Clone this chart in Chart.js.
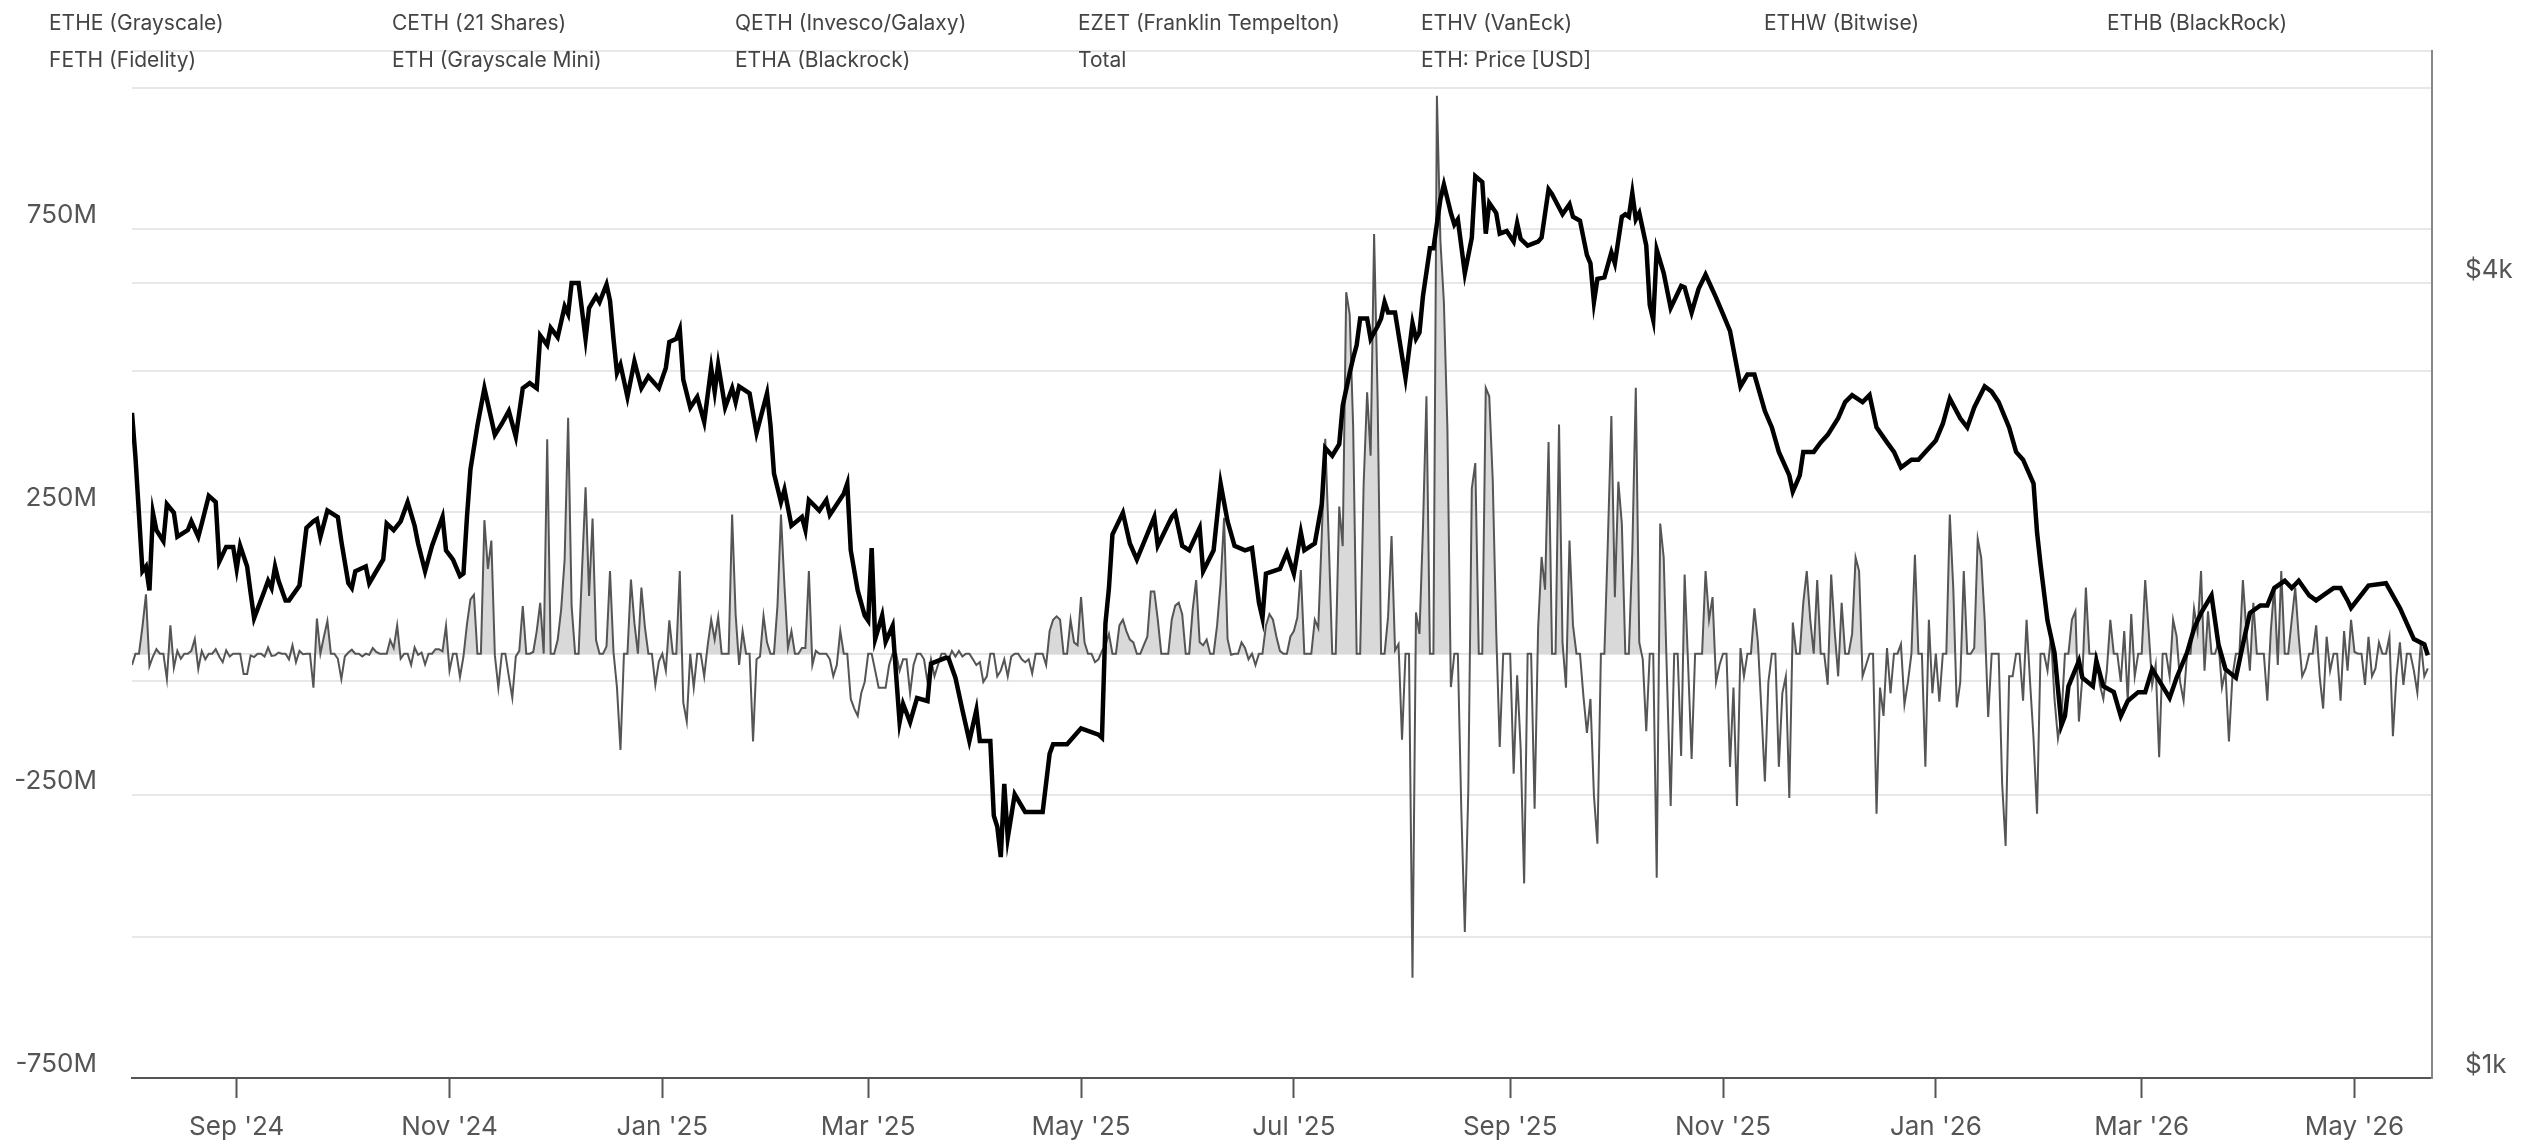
<!DOCTYPE html>
<html>
<head>
<meta charset="utf-8">
<title>ETH ETF flows vs ETH price</title>
<script src="https://cdn.jsdelivr.net/npm/chart.js@4.4.1/dist/chart.umd.min.js"></script>
<style>
  html, body { margin: 0; padding: 0; background: #fff; }
  #wrap { position: relative; width: 2548px; height: 1146px; }
  #legend {
    position: absolute; left: 49px; top: 4px; z-index: 2; pointer-events: none;
    display: grid; grid-template-columns: repeat(7, 343px); grid-auto-rows: 37px;
    font: 21px Inter, sans-serif; color: #444;
  }
  #legend div { line-height: 37px; white-space: nowrap; }
</style>
</head>
<body>
<div id="wrap">
  <div id="legend"></div>
  <canvas id="chart" width="2548" height="1146"></canvas>
</div>
<script>
// Legend order as in the source chart
const seriesNames = [
  'ETHE (Grayscale)', 'CETH (21 Shares)', 'QETH (Invesco/Galaxy)', 'EZET (Franklin Tempelton)',
  'ETHV (VanEck)', 'ETHW (Bitwise)', 'ETHB (BlackRock)',
  'FETH (Fidelity)', 'ETH (Grayscale Mini)', 'ETHA (Blackrock)', 'Total', 'ETH: Price [USD]'
];

// x axis month ticks
const monthTicks = ['2024-09-01', '2024-11-01', '2025-01-01', '2025-03-01', '2025-05-01', '2025-07-01',
  '2025-09-01', '2025-11-01', '2026-01-01', '2026-03-01', '2026-05-01'];
const flowTickLabels = { '750': '750M', '250': '250M', '-250': '-250M', '-750': '-750M' };
const priceTickLabels = { '1000': '$1k', '4000': '$4k' };

// ETH price, USD
const priceDates = [
  '2024-08-02','2024-08-03','2024-08-05','2024-08-06','2024-08-07','2024-08-08','2024-08-09','2024-08-11','2024-08-12','2024-08-14',
  '2024-08-15','2024-08-18','2024-08-19','2024-08-21','2024-08-22','2024-08-24','2024-08-26','2024-08-27','2024-08-29','2024-08-31',
  '2024-09-01','2024-09-02','2024-09-04','2024-09-05','2024-09-06','2024-09-09','2024-09-10','2024-09-11','2024-09-12','2024-09-13',
  '2024-09-15','2024-09-16','2024-09-19','2024-09-21','2024-09-23','2024-09-24','2024-09-25','2024-09-27','2024-09-30','2024-10-01',
  '2024-10-03','2024-10-04','2024-10-05','2024-10-08','2024-10-09','2024-10-11','2024-10-13','2024-10-14','2024-10-16','2024-10-18',
  '2024-10-20','2024-10-22','2024-10-23','2024-10-25','2024-10-27','2024-10-30','2024-10-31','2024-11-02','2024-11-04','2024-11-05',
  '2024-11-06','2024-11-07','2024-11-09','2024-11-11','2024-11-14','2024-11-16','2024-11-18','2024-11-20','2024-11-22','2024-11-24',
  '2024-11-26','2024-11-27','2024-11-29','2024-11-30','2024-12-02','2024-12-04','2024-12-05','2024-12-06','2024-12-08','2024-12-10',
  '2024-12-11','2024-12-13','2024-12-14','2024-12-16','2024-12-17','2024-12-18','2024-12-19','2024-12-20','2024-12-22','2024-12-24',
  '2024-12-26','2024-12-28','2024-12-31','2025-01-02','2025-01-03','2025-01-05','2025-01-06','2025-01-07','2025-01-09','2025-01-11',
  '2025-01-13','2025-01-15','2025-01-16','2025-01-17','2025-01-19','2025-01-21','2025-01-22','2025-01-23','2025-01-26','2025-01-28',
  '2025-01-31','2025-02-01','2025-02-02','2025-02-04','2025-02-05','2025-02-07','2025-02-10','2025-02-11','2025-02-12','2025-02-15',
  '2025-02-17','2025-02-18','2025-02-22','2025-02-23','2025-02-24','2025-02-26','2025-02-28','2025-03-01','2025-03-02','2025-03-03',
  '2025-03-05','2025-03-06','2025-03-08','2025-03-09','2025-03-10','2025-03-11','2025-03-13','2025-03-15','2025-03-18','2025-03-19',
  '2025-03-23','2025-03-24','2025-03-26','2025-03-28','2025-03-30','2025-04-01','2025-04-02','2025-04-05','2025-04-06','2025-04-07',
  '2025-04-08','2025-04-09','2025-04-10','2025-04-12','2025-04-15','2025-04-20','2025-04-22','2025-04-23','2025-04-27','2025-05-01',
  '2025-05-06','2025-05-07','2025-05-08','2025-05-09','2025-05-10','2025-05-13','2025-05-15','2025-05-17','2025-05-22','2025-05-23',
  '2025-05-27','2025-05-28','2025-05-30','2025-06-01','2025-06-04','2025-06-05','2025-06-08','2025-06-10','2025-06-12','2025-06-14',
  '2025-06-17','2025-06-19','2025-06-21','2025-06-22','2025-06-23','2025-06-27','2025-06-29','2025-07-01','2025-07-03','2025-07-04',
  '2025-07-07','2025-07-09','2025-07-10','2025-07-12','2025-07-14','2025-07-15','2025-07-17','2025-07-18','2025-07-19','2025-07-20',
  '2025-07-22','2025-07-23','2025-07-25','2025-07-26','2025-07-27','2025-07-28','2025-07-30','2025-08-02','2025-08-04','2025-08-05',
  '2025-08-06','2025-08-07','2025-08-09','2025-08-10','2025-08-12','2025-08-13','2025-08-15','2025-08-16','2025-08-17','2025-08-19',
  '2025-08-21','2025-08-22','2025-08-24','2025-08-25','2025-08-26','2025-08-28','2025-08-29','2025-08-31','2025-09-02','2025-09-03',
  '2025-09-04','2025-09-06','2025-09-09','2025-09-10','2025-09-12','2025-09-13','2025-09-16','2025-09-18','2025-09-19','2025-09-21',
  '2025-09-23','2025-09-24','2025-09-25','2025-09-26','2025-09-28','2025-09-30','2025-10-01','2025-10-03','2025-10-04','2025-10-05',
  '2025-10-06','2025-10-07','2025-10-08','2025-10-10','2025-10-11','2025-10-12','2025-10-13','2025-10-15','2025-10-17','2025-10-20',
  '2025-10-21','2025-10-23','2025-10-25','2025-10-27','2025-10-30','2025-11-01','2025-11-03','2025-11-06','2025-11-08','2025-11-10',
  '2025-11-13','2025-11-15','2025-11-17','2025-11-20','2025-11-21','2025-11-23','2025-11-24','2025-11-27','2025-11-29','2025-12-01',
  '2025-12-04','2025-12-06','2025-12-08','2025-12-11','2025-12-13','2025-12-15','2025-12-18','2025-12-20','2025-12-22','2025-12-25',
  '2025-12-27','2025-12-29','2026-01-01','2026-01-03','2026-01-05','2026-01-08','2026-01-10','2026-01-12','2026-01-15','2026-01-17',
  '2026-01-19','2026-01-22','2026-01-24','2026-01-26','2026-01-29','2026-01-30','2026-01-31','2026-02-02','2026-02-04','2026-02-06',
  '2026-02-07','2026-02-08','2026-02-11','2026-02-12','2026-02-15','2026-02-16','2026-02-18','2026-02-21','2026-02-23','2026-02-25',
  '2026-02-28','2026-03-02','2026-03-04','2026-03-07','2026-03-09','2026-03-11','2026-03-14','2026-03-16','2026-03-18','2026-03-21',
  '2026-03-23','2026-03-25','2026-03-28','2026-03-30','2026-04-01','2026-04-04','2026-04-06','2026-04-08','2026-04-11','2026-04-13',
  '2026-04-15','2026-04-18','2026-04-20','2026-04-22','2026-04-25','2026-04-27','2026-04-29','2026-04-30','2026-05-05','2026-05-10',
  '2026-05-14','2026-05-18','2026-05-21','2026-05-22'
];
const priceUsd = [
  3190, 2950, 2420, 2440, 2340, 2680, 2600, 2550, 2720, 2680,
  2570, 2600, 2640, 2570, 2630, 2760, 2730, 2460, 2525, 2525,
  2430, 2530, 2440, 2330, 2230, 2340, 2380, 2350, 2440, 2380,
  2300, 2300, 2360, 2610, 2640, 2650, 2570, 2690, 2660, 2550,
  2370, 2350, 2420, 2440, 2370, 2420, 2470, 2630, 2600, 2640,
  2730, 2620, 2540, 2420, 2530, 2660, 2510, 2470, 2400, 2410,
  2660, 2890, 3120, 3330, 3070, 3130, 3200, 3060, 3330, 3360,
  3330, 3650, 3590, 3700, 3640, 3840, 3790, 4000, 4000, 3630,
  3830, 3910, 3870, 3990, 3880, 3630, 3420, 3470, 3280, 3490,
  3330, 3400, 3330, 3450, 3610, 3630, 3690, 3380, 3220, 3280,
  3140, 3450, 3310, 3470, 3220, 3330, 3250, 3340, 3300, 3080,
  3300, 3120, 2870, 2730, 2790, 2620, 2660, 2600, 2740, 2690,
  2740, 2670, 2770, 2820, 2510, 2340, 2240, 2220, 2520, 2150,
  2240, 2140, 2200, 2020, 1860, 1920, 1860, 1940, 1930, 2060,
  2080, 2080, 2010, 1900, 1800, 1900, 1800, 1800, 1580, 1550,
  1470, 1670, 1520, 1640, 1590, 1590, 1760, 1790, 1790, 1840,
  1820, 1810, 2210, 2350, 2580, 2680, 2540, 2470, 2660, 2530,
  2660, 2680, 2530, 2510, 2610, 2420, 2510, 2820, 2640, 2530,
  2510, 2520, 2290, 2230, 2410, 2430, 2500, 2410, 2590, 2510,
  2540, 2720, 3000, 2960, 3020, 3230, 3420, 3510, 3590, 3760,
  3760, 3630, 3710, 3760, 3870, 3800, 3800, 3390, 3730, 3630,
  3670, 3910, 4250, 4250, 4630, 4750, 4520, 4430, 4470, 4070,
  4330, 4820, 4770, 4360, 4600, 4520, 4360, 4380, 4300, 4440,
  4320, 4270, 4300, 4330, 4710, 4670, 4510, 4590, 4490, 4460,
  4200, 4140, 3870, 4030, 4040, 4220, 4140, 4490, 4510, 4490,
  4680, 4470, 4520, 4270, 3850, 3750, 4240, 4070, 3830, 3980,
  3970, 3800, 3960, 4060, 3900, 3790, 3680, 3340, 3410, 3410,
  3200, 3110, 2980, 2860, 2780, 2860, 2980, 2980, 3030, 3070,
  3160, 3250, 3290, 3250, 3290, 3110, 3030, 2980, 2900, 2940,
  2940, 2980, 3040, 3130, 3270, 3160, 3110, 3220, 3340, 3310,
  3250, 3110, 2980, 2940, 2820, 2590, 2450, 2220, 2100, 1850,
  1880, 1980, 2070, 2010, 1980, 2070, 1980, 1960, 1880, 1930,
  1960, 1960, 2040, 1980, 1940, 2010, 2100, 2190, 2250, 2320,
  2130, 2040, 2010, 2130, 2250, 2280, 2280, 2350, 2380, 2350,
  2380, 2320, 2300, 2320, 2350, 2350, 2300, 2270, 2360, 2370,
  2270, 2150, 2130, 2090
];

// Total daily net flow of all ETH ETFs, million USD
const flowDates = [
  '2024-08-02','2024-08-05','2024-08-06','2024-08-07','2024-08-08','2024-08-09','2024-08-12','2024-08-13','2024-08-14','2024-08-15',
  '2024-08-16','2024-08-19','2024-08-20','2024-08-21','2024-08-22','2024-08-23','2024-08-26','2024-08-27','2024-08-28','2024-08-29',
  '2024-08-30','2024-09-03','2024-09-04','2024-09-05','2024-09-06','2024-09-09','2024-09-10','2024-09-11','2024-09-12','2024-09-13',
  '2024-09-16','2024-09-17','2024-09-18','2024-09-19','2024-09-20','2024-09-23','2024-09-24','2024-09-26','2024-09-27','2024-09-30',
  '2024-10-01','2024-10-02','2024-10-03','2024-10-04','2024-10-07','2024-10-09','2024-10-10','2024-10-11','2024-10-15','2024-10-16',
  '2024-10-17','2024-10-18','2024-10-21','2024-10-22','2024-10-23','2024-10-24','2024-10-25','2024-10-28','2024-10-29','2024-10-30',
  '2024-10-31','2024-11-01','2024-11-04','2024-11-05','2024-11-06','2024-11-07','2024-11-08','2024-11-11','2024-11-12','2024-11-13',
  '2024-11-14','2024-11-15','2024-11-18','2024-11-19','2024-11-20','2024-11-21','2024-11-22','2024-11-25','2024-11-26','2024-11-27',
  '2024-11-29','2024-12-02','2024-12-03','2024-12-04','2024-12-05','2024-12-06','2024-12-09','2024-12-10','2024-12-11','2024-12-12',
  '2024-12-13','2024-12-16','2024-12-17','2024-12-18','2024-12-19','2024-12-20','2024-12-23','2024-12-24','2024-12-26','2024-12-27',
  '2024-12-30','2024-12-31','2025-01-02','2025-01-03','2025-01-06','2025-01-07','2025-01-08','2025-01-10','2025-01-13','2025-01-14',
  '2025-01-15','2025-01-16','2025-01-17','2025-01-21','2025-01-22','2025-01-23','2025-01-24','2025-01-27','2025-01-28','2025-01-29',
  '2025-01-30','2025-01-31','2025-02-03','2025-02-04','2025-02-05','2025-02-06','2025-02-07','2025-02-10','2025-02-11','2025-02-12',
  '2025-02-13','2025-02-14','2025-02-18','2025-02-19','2025-02-20','2025-02-21','2025-02-24','2025-02-25','2025-02-26','2025-02-27',
  '2025-02-28','2025-03-03','2025-03-04','2025-03-05','2025-03-06','2025-03-07','2025-03-10','2025-03-11','2025-03-12','2025-03-13',
  '2025-03-14','2025-03-17','2025-03-18','2025-03-19','2025-03-20','2025-03-21','2025-03-24','2025-03-25','2025-03-26','2025-03-27',
  '2025-03-28','2025-03-31','2025-04-01','2025-04-02','2025-04-03','2025-04-04','2025-04-07','2025-04-08','2025-04-09','2025-04-10',
  '2025-04-11','2025-04-14','2025-04-15','2025-04-16','2025-04-17','2025-04-21','2025-04-22','2025-04-23','2025-04-24','2025-04-25',
  '2025-04-28','2025-04-29','2025-04-30','2025-05-01','2025-05-02','2025-05-05','2025-05-06','2025-05-07','2025-05-08','2025-05-09',
  '2025-05-12','2025-05-13','2025-05-14','2025-05-15','2025-05-16','2025-05-19','2025-05-20','2025-05-21','2025-05-22','2025-05-23',
  '2025-05-27','2025-05-28','2025-05-29','2025-05-30','2025-06-02','2025-06-03','2025-06-04','2025-06-05','2025-06-06','2025-06-09',
  '2025-06-10','2025-06-11','2025-06-12','2025-06-13','2025-06-16','2025-06-17','2025-06-18','2025-06-20','2025-06-23','2025-06-24',
  '2025-06-25','2025-06-26','2025-06-27','2025-06-30','2025-07-01','2025-07-02','2025-07-03','2025-07-07','2025-07-08','2025-07-09',
  '2025-07-10','2025-07-11','2025-07-14','2025-07-15','2025-07-16','2025-07-17','2025-07-18','2025-07-21','2025-07-22','2025-07-23',
  '2025-07-24','2025-07-25','2025-07-28','2025-07-29','2025-07-30','2025-07-31','2025-08-01','2025-08-04','2025-08-05','2025-08-06',
  '2025-08-07','2025-08-08','2025-08-11','2025-08-12','2025-08-13','2025-08-14','2025-08-15','2025-08-18','2025-08-19','2025-08-20',
  '2025-08-21','2025-08-22','2025-08-25','2025-08-26','2025-08-27','2025-08-28','2025-08-29','2025-09-02','2025-09-03','2025-09-04',
  '2025-09-05','2025-09-08','2025-09-09','2025-09-10','2025-09-11','2025-09-12','2025-09-15','2025-09-16','2025-09-17','2025-09-18',
  '2025-09-19','2025-09-22','2025-09-23','2025-09-24','2025-09-25','2025-09-26','2025-09-29','2025-09-30','2025-10-01','2025-10-02',
  '2025-10-03','2025-10-06','2025-10-07','2025-10-08','2025-10-09','2025-10-10','2025-10-13','2025-10-14','2025-10-15','2025-10-16',
  '2025-10-17','2025-10-20','2025-10-21','2025-10-22','2025-10-23',
  '2025-10-27','2025-10-28','2025-10-29','2025-10-30','2025-10-31','2025-11-03','2025-11-04','2025-11-05','2025-11-06','2025-11-07',
  '2025-11-10','2025-11-11','2025-11-12','2025-11-13','2025-11-14','2025-11-17','2025-11-18','2025-11-19','2025-11-20','2025-11-21',
  '2025-11-24','2025-11-25','2025-11-26','2025-11-28','2025-12-01','2025-12-02','2025-12-03','2025-12-04','2025-12-05','2025-12-08',
  '2025-12-09','2025-12-10','2025-12-11','2025-12-12','2025-12-15','2025-12-16','2025-12-17','2025-12-18','2025-12-19','2025-12-22',
  '2025-12-23','2025-12-24','2025-12-26','2025-12-29','2025-12-30','2025-12-31','2026-01-02','2026-01-05','2026-01-06','2026-01-07',
  '2026-01-08','2026-01-09','2026-01-12','2026-01-13','2026-01-14','2026-01-15','2026-01-16','2026-01-20','2026-01-21','2026-01-22',
  '2026-01-23','2026-01-26','2026-01-27','2026-01-28','2026-01-29','2026-01-30','2026-02-02','2026-02-03','2026-02-04','2026-02-05',
  '2026-02-06','2026-02-09','2026-02-10','2026-02-11','2026-02-12','2026-02-13','2026-02-17','2026-02-18','2026-02-19','2026-02-20',
  '2026-02-23','2026-02-24','2026-02-25','2026-02-26','2026-02-27','2026-03-02','2026-03-03','2026-03-04','2026-03-05','2026-03-06',
  '2026-03-09','2026-03-10','2026-03-11','2026-03-12','2026-03-13','2026-03-16','2026-03-17','2026-03-18','2026-03-19','2026-03-20',
  '2026-03-23','2026-03-24','2026-03-25','2026-03-26','2026-03-27','2026-03-30','2026-03-31','2026-04-01','2026-04-02','2026-04-06',
  '2026-04-07','2026-04-08','2026-04-09','2026-04-10','2026-04-13','2026-04-14','2026-04-15','2026-04-16','2026-04-17','2026-04-20',
  '2026-04-21','2026-04-22','2026-04-23','2026-04-24','2026-04-27','2026-04-28','2026-04-29','2026-04-30','2026-05-01','2026-05-04',
  '2026-05-05','2026-05-06','2026-05-07','2026-05-08','2026-05-11','2026-05-12','2026-05-13','2026-05-14','2026-05-15','2026-05-18',
  '2026-05-19','2026-05-20','2026-05-21','2026-05-22'
];
const flowTotal = [
  -20, 48, 105, -22, -5, 8, -45, 50, -25, 5,
  -9, 5, 26, -27, 5, -10, 8, -5, -15, 6,
  -5, -36, -36, -3, -6, -5, 11, -4, -3, 2,
  -10, 15, -15, 5, -1, -60, 62, 30, 58, -9,
  -45, -5, 2, 7, -5, -2, 10, 3, 24, 10,
  50, -9, -20, 11, -2, 2, -19, 8, 8, 4,
  49, -30, -41, -5, 52, 96, 104, 236, 150, 200,
  -3, -60, -40, -78, -5, 5, 84, 3, 40, 90,
  379, 24, 78, 167, 417, 84, 150, 294, 102, 239,
  24, 13, 146, 3, -60, -170, 131, 54, 117, 47,
  -55, -14, -30, 59, 146, -86, -120, -60, -40, 15,
  60, 25, 65, 246, 70, -20, 40, -155, -10, -5,
  67, 20, 85, 246, 120, 10, 40, 10, 10, 146,
  -20, 5, -10, -40, -20, 40, -80, -97, -110, -70,
  -50, -30, -60, -60, -60, -20, -30, -10, -10, -70,
  -20, -10, -50, -10, -40, -20, -10, 5, -5, 5,
  -5, -10, -20, -15, -50, -40, -40, -30, -10, -40,
  -5, -10, -15, -10, -35, -20, 40, 60, 66, 60,
  60, 20, 15, 100, 20, -15, -10, 5, 15, 35,
  50, 60, 40, 25, 20, 15, 30, 110, 110, 60,
  60, 85, 90, 70, 78, 130, 20, 15, 25, 50,
  125, 240, 26, -2, 20, 10, -10, -20, 50, 70,
  60, 30, 5, 30, 40, 64, 148, 60, 45, 210,
  380, 200, 260, 190, 639, 600, 400, 300, 462, 350,
  742, 453, 65, 208, 6, 17, -152, -573, 73, 35,
  222, 455, 986, 730, 621, 400, -59, -278, -492, -240,
  292, 337, 470, 455, 307, 39, -165, -212, -38, -167,
  -406, -274, 44, 171, 113, 374, 405, 20, -60, 200,
  50, -76, -140, -80, -250, -336, 200, 420, 100, 304,
  230, 180, 470, 20, -10, -137, -396, 230, 170, -56,
  -269, -181, 140, -20, -186,
  146, 60, 100, -50, -20, -200, -60, -269, 10, -40,
  80, 20, -100, -226, -50, -200, -70, -40, -255, 55,
  90, 146, 60, 130, -55, 140, 40, -40, 90, 35,
  170, 146, -40, -20, -283, -60, -110, 10, -70, 17,
  -90, -50, 175, -200, 60, -70, -85, 246, 115, -95,
  -50, 146, 10, 203, 170, 60, -112, -230, -340, -40,
  -40, -83, 60, -50, -150, -283, -30, 31, -80, -150,
  -112, 60, 75, -120, -40, 117, -55, -80, -30, 60,
  -50, 40, -83, 70, -40, 130, 40, -55, -20, -183,
  -40, 60, 31, -50, -83, 80, 40, 146, -30, 75,
  20, -60, -30, -155, -40, 130, 40, -30, 90, -83,
  40, 120, -20, 146, 60, 117, 30, -40, -26, 50,
  -40, -97, 30, -30, -83, 40, -30, 60, 3, -55,
  30, -40, -26, 20, 30, -146, -40, 20, -55, -30,
  -69, 20, -40, -26
];

const START = Date.parse('2024-08-02');
const LAST_DAY = 658;
const MONTHS = ['Jan','Feb','Mar','Apr','May','Jun','Jul','Aug','Sep','Oct','Nov','Dec'];
const dayOf = s => Math.round((Date.parse(s) - START) / 864e5);

// daily series for the flows: days without a listed value (weekends etc.) sit at zero
const flowByDay = {};
flowDates.forEach((d, i) => { flowByDay[dayOf(d)] = flowTotal[i]; });
const flowPoints = [];
for (let d = 0; d <= LAST_DAY; d++) flowPoints.push({ x: d, y: flowByDay[d] || 0 });
const pricePoints = priceDates.map((d, i) => ({ x: dayOf(d), y: priceUsd[i] }));

const datasets = seriesNames.map(name => {
  if (name === 'Total') {
    return {
      label: name, data: flowPoints, yAxisID: 'y', order: 1,
      borderColor: '#555', borderWidth: 2, pointRadius: 0, tension: 0,
      fill: { target: 'origin', above: 'rgba(185,185,185,0.55)', below: 'rgba(0,0,0,0)' }
    };
  }
  if (name === 'ETH: Price [USD]') {
    return {
      label: name, data: pricePoints, yAxisID: 'y2', order: 0,
      borderColor: '#000', borderWidth: 4.5, pointRadius: 0, tension: 0
    };
  }
  return { label: name, data: [], yAxisID: 'y', order: 2, borderColor: '#bbb', borderWidth: 1, pointRadius: 0 };
});

Chart.defaults.font.family = 'Inter, sans-serif';
Chart.defaults.color = '#555';

const tickFont = { size: 26 };
const chart = new Chart(document.getElementById('chart'), {
  type: 'line',
  data: { datasets },
  options: {
    responsive: false,
    animation: false,
    layout: { padding: { top: 43, right: 0, bottom: 0, left: 0 } },
    plugins: { legend: { display: false }, tooltip: { enabled: false } },
    scales: {
      x: {
        type: 'linear', min: 0, max: 659.2,
        grid: { drawOnChartArea: false, drawTicks: true, tickLength: 20, tickColor: '#555', tickWidth: 2 },
        border: { color: '#555', width: 2 },
        ticks: {
          font: tickFont, color: '#555', padding: 14, maxRotation: 0, autoSkip: false,
          callback: v => {
            const dt = new Date(START + v * 864e5);
            return MONTHS[dt.getUTCMonth()] + " '" + String(dt.getUTCFullYear()).slice(2);
          }
        },
        afterBuildTicks: s => { s.ticks = monthTicks.map(m => ({ value: dayOf(m) })); },
        afterFit: s => { s.height = 68; }
      },
      y: {
        position: 'left', min: -750, max: 1066,
        grid: { color: '#e8e8e8', lineWidth: 2, drawTicks: false },
        border: { display: false },
        ticks: { font: tickFont, color: '#555', padding: 35, labelOffset: -14,
          callback: v => flowTickLabels[String(v)] || '' },
        afterBuildTicks: s => { s.ticks = [-750, -500, -250, 0, 250, 500, 750, 1000, 1066].map(v => ({ value: v })); },
        afterFit: s => { s.width = 132; }
      },
      y2: {
        type: 'logarithmic', position: 'right', min: 1000, max: 6000,
        grid: { color: '#e8e8e8', lineWidth: 2, drawTicks: false },
        border: { display: true, color: '#888', width: 2 },
        ticks: { font: tickFont, color: '#555', padding: 33, labelOffset: -13,
          callback: v => priceTickLabels[String(v)] || '' },
        afterBuildTicks: s => { s.ticks = [1000, 2000, 4000].map(v => ({ value: v })); },
        afterFit: s => { s.width = 116; }
      }
    }
  }
});

// legend as plain text grid, labels taken from the datasets
const legendEl = document.getElementById('legend');
chart.data.datasets.forEach(ds => {
  const item = document.createElement('div');
  item.textContent = ds.label;
  legendEl.appendChild(item);
});
</script>
</body>
</html>
